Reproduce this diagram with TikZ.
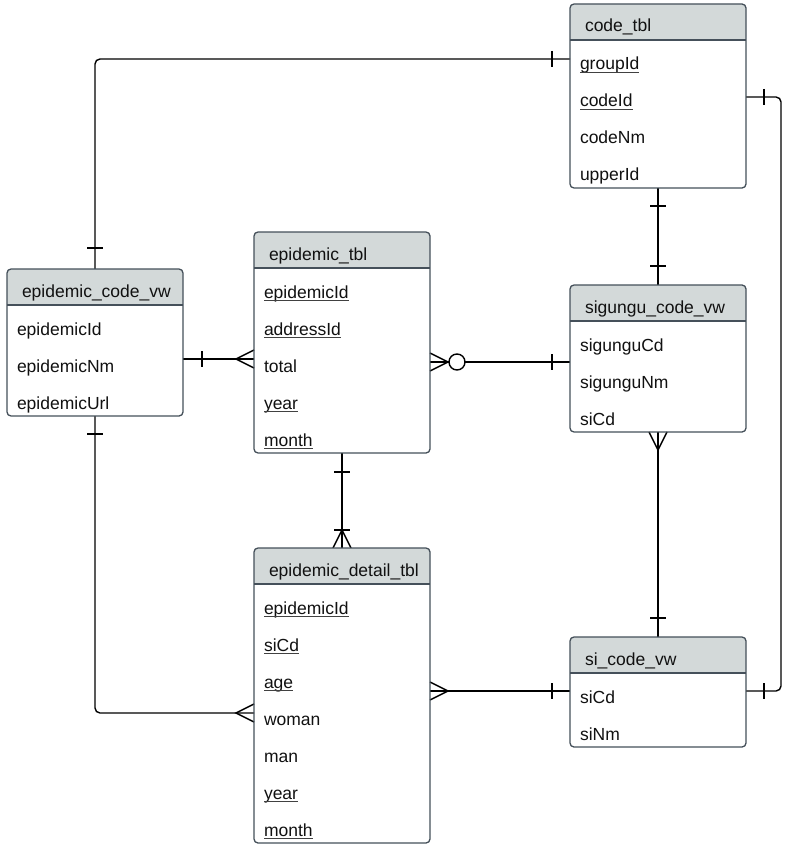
\documentclass[tikz,border=0pt]{standalone}
\usepackage{fontspec}
\setmainfont{Liberation Sans}
\usetikzlibrary{calc}
\definecolor{hdrfill}{HTML}{D3D9D9}
\definecolor{boxline}{HTML}{45505A}
\definecolor{txtcol}{HTML}{111111}
\tikzset{
  tblbox/.style={draw=boxline, line width=1.3pt, rounded corners=4pt, minimum width=176pt, inner sep=0pt, outer sep=0pt, fill=none},
  tblline/.style={draw=boxline, line width=1.3pt},
  txt/.style={inner sep=0pt, outer sep=0pt, text=txtcol, font=\fontsize{17.5}{20}\selectfont},
  ulline/.style={draw=txtcol!80, line width=0.8pt},
  conn/.style={draw=black, line width=1.4pt},
}
\newcommand\ertable[6]{%
  \pgfmathsetmacro\tbh{36+37*#4}%
  \fill[hdrfill, rounded corners=4pt] (#2,#3) rectangle ++(176,36);
  \fill[hdrfill] (#2,#3+28) rectangle ++(176,8);
  \draw[tblline] (#2,#3+36) -- ++(176,0);
  \node[tblbox, minimum height=\tbh pt, anchor=north west] (#1) at (#2,#3) {};
  \node[txt, anchor=base west] (#1-title) at (#2+15,#3+28) {#5};
  \foreach [count=\i] \t/\u in {#6} {
    \node[txt, anchor=base west] (#1-\i) at (#2+10, #3+66+37*\i-37) {\t};
    \ifnum\u=1 \draw[ulline] ([yshift=-2.5pt]#1-\i.base west) -- ([yshift=-2.5pt]#1-\i.base east);\fi
  }
}
\newcommand\erVbar[1]{\draw[conn] ($(#1)+(0,-8)$) -- ($(#1)+(0,8)$);}
\newcommand\erHbar[1]{\draw[conn] ($(#1)+(-8,0)$) -- ($(#1)+(8,0)$);}
\newcommand\crowL[1]{\draw[conn] ($(#1)+(0,-9)$) -- ($(#1)+(-18,0)$) -- ($(#1)+(0,9)$);}
\newcommand\crowR[1]{\draw[conn] ($(#1)+(0,-9)$) -- ($(#1)+(18,0)$) -- ($(#1)+(0,9)$);}
\newcommand\crowU[1]{\draw[conn] ($(#1)+(-9,0)$) -- ($(#1)+(0,-18)$) -- ($(#1)+(9,0)$);}
\newcommand\crowD[1]{\draw[conn] ($(#1)+(-9,0)$) -- ($(#1)+(0,18)$) -- ($(#1)+(9,0)$);}
\begin{document}
\begin{tikzpicture}[x=1pt,y=-1pt]
\useasboundingbox[fill=white] (0,0) rectangle (794,850);

% ---- connectors (drawn first, beneath tables) ----
\coordinate (codeW) at (570,59);
\coordinate (ecvN) at (95,269);
\coordinate (codeE) at (746,97);
\coordinate (siE) at (746,691);
\coordinate (codeS) at (658,188);
\coordinate (sigN) at (658,285);
\coordinate (ecvE) at (183,359);
\coordinate (epiWl) at (254,359);
\coordinate (epiE) at (430,362);
\coordinate (sigW) at (570,362);
\coordinate (epiS) at (342,453);
\coordinate (detN) at (342,548);
\coordinate (ecvS) at (95,416);
\coordinate (detW) at (254,713);
\coordinate (sigS) at (658,432);
\coordinate (siN) at (658,637);
\coordinate (detE) at (430,691);
\coordinate (siW) at (570,691);

% code_tbl -- epidemic_code_vw
\draw[conn, rounded corners=5pt] (codeW) -| (ecvN);
\coordinate (b1) at (552,59); \erVbar{b1}
\coordinate (b2) at (95,248); \erHbar{b2}
% code_tbl -- si_code_vw
\draw[conn, rounded corners=5pt] (codeE) -- (781,97) -- (781,691) -- (siE);
\coordinate (b3) at (764,97); \erVbar{b3}
\coordinate (b4) at (764,691); \erVbar{b4}
% code_tbl -- sigungu_code_vw
\draw[conn] (codeS) -- (sigN);
\coordinate (b5) at (658,206); \erHbar{b5}
\coordinate (b6) at (658,266); \erHbar{b6}
% epidemic_code_vw -- epidemic_tbl
\draw[conn] (ecvE) -- (epiWl);
\coordinate (b7) at (202,359); \erVbar{b7}
\crowL{epiWl}
% epidemic_tbl -- sigungu_code_vw
\draw[conn] (epiE) -- (sigW);
\crowR{epiE}
\draw[conn, fill=white] (457,362) circle[radius=8pt];
\coordinate (b8) at (552,362); \erVbar{b8}
% epidemic_tbl -- epidemic_detail_tbl
\draw[conn] (epiS) -- (detN);
\coordinate (b9) at (342,472); \erHbar{b9}
\coordinate (b10) at (342,530); \erHbar{b10}
\crowU{detN}
% epidemic_code_vw -- epidemic_detail_tbl
\draw[conn, rounded corners=5pt] (ecvS) |- (detW);
\coordinate (b11) at (95,434); \erHbar{b11}
\crowL{detW}
% sigungu_code_vw -- si_code_vw
\draw[conn] (sigS) -- (siN);
\crowD{sigS}
\coordinate (b12) at (658,618); \erHbar{b12}
% epidemic_detail_tbl -- si_code_vw
\draw[conn] (detE) -- (siW);
\crowR{detE}
\coordinate (b13) at (552,691); \erVbar{b13}

% ---- tables ----
\ertable{code}{570}{4}{4}{code\_tbl}{groupId/1, codeId/1, codeNm/0, upperId/0}
\ertable{ecv}{7}{269}{3}{epidemic\_code\_vw}{epidemicId/0, epidemicNm/0, epidemicUrl/0}
\ertable{epi}{254}{232}{5}{epidemic\_tbl}{epidemicId/1, addressId/1, total/0, year/1, month/1}
\ertable{sig}{570}{285}{3}{sigungu\_code\_vw}{sigunguCd/0, sigunguNm/0, siCd/0}
\ertable{det}{254}{548}{7}{epidemic\_detail\_tbl}{epidemicId/1, siCd/1, age/1, woman/0, man/0, year/1, month/1}
\ertable{si}{570}{637}{2}{si\_code\_vw}{siCd/0, siNm/0}
\end{tikzpicture}
\end{document}
